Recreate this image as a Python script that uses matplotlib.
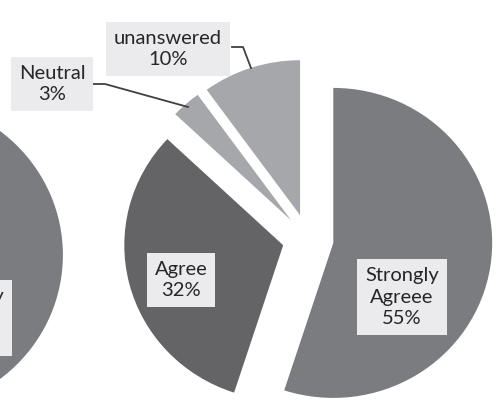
import matplotlib
matplotlib.use("Agg")
from matplotlib import pyplot as plt

# data
labels = ["Strongly\nAgreee", "Agree", "Neutral", "unanswered"]
shares = [55, 32, 3, 10]
colors = ["#7b7c80", "#646467", "#a6a7aa", "#a6a7aa"]

# the neighbour pie, mostly cut off on the left
left_shares = [100]
left_label = "Strongly\nAgree\n%"

plt.rcParams["font.family"] = ["Lato", "DejaVu Sans"]

fig = plt.figure(figsize=(4.96, 4.05), dpi=100)
ax = fig.add_axes([0, 0, 1, 1])

# pies look a bit wider than tall in the original, so squeeze the x units
SX = 1.025


def px(x):
    return x / SX


# main pie, all slices pulled out by the same amount (data units)
wedges, _ = ax.pie(shares, explode=[25] * 4, radius=155, center=(px(308), 166),
                   startangle=90, counterclock=False, colors=colors,
                   wedgeprops=dict(linewidth=0), frame=True)

ax.pie(left_shares, radius=156, center=(px(-97), 150), colors=["#7b7c80"],
       wedgeprops=dict(linewidth=0), frame=True)

box = dict(boxstyle="square,pad=0.4", fc="#ebebed", ec="none")
txt = dict(fontsize=14.5, color="#262626", ha="center", va="center",
           linespacing=1.3, bbox=box)

# label positions (pixels from the left, y from the bottom)
ax.text(px(402), 405 - 297, f"{labels[0]}\n{shares[0]}%", **txt)
ax.text(px(181), 405 - 280, f"{labels[1]}\n{shares[1]}%", **txt)
ax.text(px(52), 405 - 84, f"{labels[2]}\n{shares[2]}%", **txt)
ax.text(px(168), 405 - 49, f"{labels[3]}\n{shares[3]}%", **txt)
ax.text(px(-33), 405 - 318, left_label, **txt)

# leader lines
ax.plot([px(92), px(105), px(188)], [405 - 84, 405 - 84, 405 - 107],
        color="#404040", lw=1.3)
ax.plot([px(232), px(243), px(251)], [405 - 47, 405 - 47, 405 - 68],
        color="#404040", lw=1.3)

ax.set_xlim(0, px(496))
ax.set_ylim(0, 405)
ax.set_aspect("auto")
ax.axis("off")

fig.savefig("out.png", dpi=100)
